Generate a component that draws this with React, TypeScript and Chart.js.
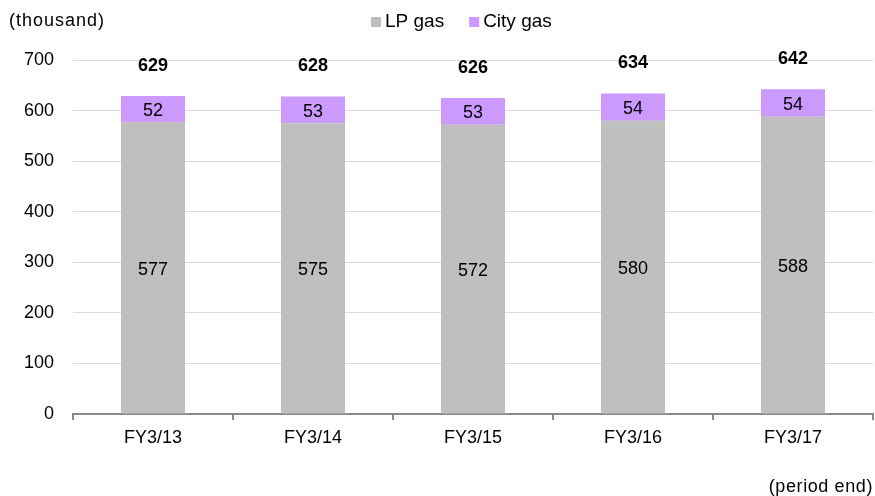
import React, { useEffect, useRef } from "react";
import { Chart, registerables } from "chart.js";

Chart.register(...registerables);

const categories = ["FY3/13", "FY3/14", "FY3/15", "FY3/16", "FY3/17"];
const lpGas = [577, 575, 572, 580, 588];
const cityGas = [52, 53, 53, 54, 54];
const totals = [629, 628, 626, 634, 642];
const yTicks = [0, 100, 200, 300, 400, 500, 600, 700];

const FONT = "'Liberation Sans', Arial, sans-serif";
const LP_COLOR = "#bfbfbf";
const CITY_COLOR = "#cc99ff";

const labelPlugin = {
  id: "labels",
  afterDatasetsDraw(chart: any) {
    const ctx = chart.ctx;
    ctx.save();
    ctx.textAlign = "center";
    ctx.textBaseline = "middle";
    ctx.fillStyle = "#000";
    chart.data.datasets.forEach((ds: any, di: number) => {
      const meta = chart.getDatasetMeta(di);
      meta.data.forEach((bar: any, i: number) => {
        const props = bar.getProps(["x", "y", "base"], true);
        ctx.font = `18px ${FONT}`;
        ctx.fillText(String(ds.data[i]), props.x, (props.y + props.base) / 2 + 2);
      });
    });
    const topMeta = chart.getDatasetMeta(1);
    ctx.font = `bold 18px ${FONT}`;
    topMeta.data.forEach((bar: any, i: number) => {
      const props = bar.getProps(["x", "y"], true);
      ctx.fillText(String(totals[i]), props.x, props.y - 30);
    });
    // titles
    ctx.font = `18px ${FONT}`;
    ctx.letterSpacing = "1px";
    ctx.textAlign = "left";
    ctx.fillText("(thousand)", 9, 21);
    ctx.letterSpacing = "0.6px";
    ctx.textAlign = "right";
    ctx.fillText("(period end)", 873, 487);
    ctx.letterSpacing = "0px";
    // legend
    const items = [
      { label: "LP gas", color: LP_COLOR },
      { label: "City gas", color: CITY_COLOR },
    ];
    ctx.font = `19px ${FONT}`;
    ctx.textAlign = "left";
    let x = 371;
    items.forEach((it) => {
      ctx.fillStyle = it.color;
      ctx.fillRect(x, 17, 10, 10);
      ctx.fillStyle = "#000";
      ctx.fillText(it.label, x + 14, 22);
      x += 14 + ctx.measureText(it.label).width + 25;
    });
    ctx.restore();
  },
};

export default function App() {
  const ref = useRef<HTMLCanvasElement>(null);
  useEffect(() => {
    document.body.style.margin = "0";
    const chart = new Chart(ref.current!, {
      type: "bar",
      data: {
        labels: categories,
        datasets: [
          { label: "LP gas", data: lpGas, backgroundColor: LP_COLOR, barPercentage: 0.4, categoryPercentage: 1 },
          { label: "City gas", data: cityGas, backgroundColor: CITY_COLOR, barPercentage: 0.4, categoryPercentage: 1 },
        ],
      },
      options: {
        animation: false,
        responsive: false,
        layout: { padding: { top: 60, right: 2, left: 0, bottom: 0 } },
        plugins: { legend: { display: false }, tooltip: { enabled: false } },
        scales: {
          x: {
            stacked: true,
            grid: { drawOnChartArea: false, drawTicks: true, tickLength: 6, color: "#898989", lineWidth: 2 },
            border: { display: true, color: "#898989", width: 2 },
            ticks: { color: "#000", font: { family: FONT, size: 18 }, padding: 7 },
            afterFit: (s: any) => { s.height = 82; },
          },
          y: {
            stacked: true,
            min: 0,
            max: 700,
            afterBuildTicks: (s: any) => { s.ticks = yTicks.map((v) => ({ value: v })); },
            grid: { color: (c: any) => (c.tick && c.tick.value === 0 ? "rgba(0,0,0,0)" : "#d9d9d9"), drawTicks: false, lineWidth: 1 },
            border: { display: false },
            ticks: { color: "#000", font: { family: FONT, size: 18 }, padding: 19 },
            afterFit: (s: any) => { s.width = 73; },
          },
        },
      },
      plugins: [labelPlugin],
    });
    return () => chart.destroy();
  }, []);
  return (
    <div style={{ position: "relative", width: 875, height: 496 }}>
      <canvas ref={ref} width={875} height={496} />
    </div>
  );
}
